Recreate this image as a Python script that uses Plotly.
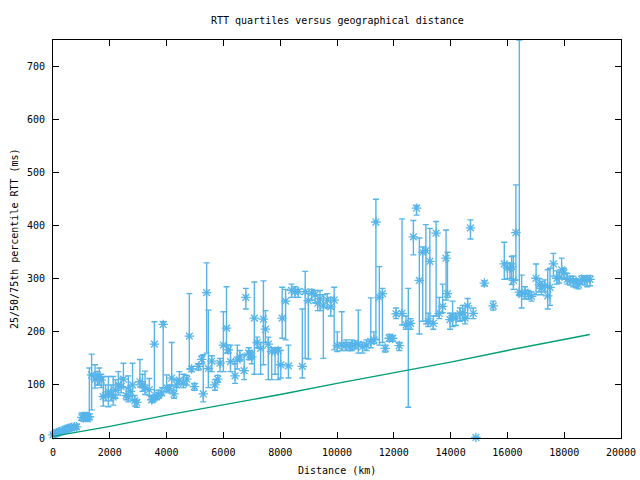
import plotly.graph_objects as go

# distance (km), 25th, 50th, 75th percentile RTT (ms)
dist = [0, 60, 130, 200, 250, 330, 420, 480, 540, 600, 660, 750, 830,
        1010, 1070, 1130, 1240, 1280, 1360, 1480, 1560, 1630, 1700, 1770, 1850, 1950,
        2050, 2120, 2200, 2300, 2400, 2480, 2580, 2650, 2720, 2800, 2880, 2950,
        3060, 3150, 3240, 3390, 3475, 3510, 3570, 3650, 3710, 3830, 3880,
        4000, 4100, 4180, 4260, 4350, 4450, 4590, 4710, 4800, 4880, 4980,
        5120, 5240, 5290, 5410, 5470, 5590, 5700, 5800, 5880,
        6000, 6110, 6170, 6250, 6410, 6490, 6580, 6730, 6790, 6890, 6940,
        7000, 7090, 7190, 7310, 7410, 7480, 7580, 7700, 7820, 7930,
        8020, 8070, 8190, 8290, 8400, 8520, 8640, 8780, 8880, 8990,
        9110, 9230, 9320, 9400, 9520, 9660, 9780, 9900,
        10010, 10170, 10320, 10460, 10520, 10630, 10750, 10900,
        11040, 11190, 11300, 11370, 11490, 11600, 11700, 11840, 11960,
        12080, 12190, 12290, 12430, 12510, 12590, 12690, 12800, 12900,
        13020, 13130, 13210, 13270, 13390, 13490, 13600, 13720, 13840, 13890, 13980,
        14070, 14190, 14330, 14430, 14510, 14600, 14700, 14800, 14890,
        15190, 15500, 15890, 16000, 16090, 16150, 16210, 16300, 16420, 16500,
        16620, 16740, 16850, 17010, 17130, 17200, 17320, 17420, 17500, 17620,
        17740, 17820, 17910, 17990, 18110, 18200, 18320, 18420, 18500, 18620,
        18730, 18810, 18910]
q25 = [3, 4, 6, 7, 8, 9, 11, 12, 13, 14, 15, 16, 17,
       33, 34, 32, 31, 35, 53, 94, 100, 100, 95, 60, 70, 59,
       70, 62, 75, 81, 85, 96, 72, 68, 80, 71, 60, 58,
       96, 88, 82, 80, 68, 70, 81, 72, 75, 80, 94,
       88, 85, 98, 75, 95, 102, 95, 100, 130, 125, 90,
       128, 140, 68, 160, 95, 125, 90, 105, 125,
       125, 160, 160, 125, 103, 130, 145, 110, 243, 148, 148,
       140, 120, 170, 120, 138, 180, 110, 110, 120, 110,
       113, 188, 185, 113, 265, 265, 265, 113, 150, 149,
       260, 255, 240, 240, 150, 245, 230, 166,
       163, 165, 165, 165, 165, 168, 160, 160,
       165, 170, 178, 186, 175, 180, 162, 182, 182,
       225, 165, 213, 205, 58, 205, 345, 420, 196,
       220, 215, 210, 215, 205, 230, 225, 236, 260, 265, 205,
       210, 212, 220, 222, 215, 225, 375, 225, 0,
       287, 241, 299, 300, 300, 289, 280, 298, 268, 245,
       262, 262, 258, 270, 275, 270, 275, 243, 250, 305,
       290, 292, 300, 300, 290, 288, 285, 283, 281, 290,
       288, 285, 287]
q50 = [6, 8, 10, 11, 12, 14, 16, 17, 18, 19, 20, 21, 21,
       39, 38, 39, 40, 40, 119, 111, 118, 114, 109, 78, 80, 87,
       82, 77, 90, 100, 97, 111, 80, 78, 88, 100, 70, 67,
       106, 100, 94, 91, 72, 73, 177, 78, 81, 85, 214,
       95, 93, 113, 83, 100, 109, 103, 111, 192, 130, 97,
       135, 148, 83, 274, 131, 145, 100, 111, 141,
       175, 207, 166, 144, 117, 147, 153, 127, 265, 160, 157,
       153, 226, 180, 169, 224, 205, 177, 163, 163, 165,
       138, 226, 258, 136, 278, 276, 276, 135, 276, 259,
       273, 270, 254, 262, 249, 260, 247, 260,
       174, 175, 175, 172, 175, 175, 177, 172,
       175, 182, 185, 407, 265, 272, 169, 188, 188,
       234, 174, 235, 213, 214, 216, 379, 433, 297,
       350, 353, 220, 333, 216, 386, 235, 248, 339, 272, 223,
       230, 226, 234, 236, 226, 249, 396, 235, 1,
       292, 249, 328, 320, 320, 323, 297, 387, 275, 270,
       275, 270, 267, 301, 289, 282, 287, 268, 284, 328,
       301, 303, 317, 311, 299, 297, 297, 292, 289, 299,
       298, 299, 299]
q75 = [10, 12, 14, 15, 16, 18, 20, 21, 22, 23, 24, 25, 26,
       47, 45, 48, 46, 132, 158, 138, 125, 132, 120, 116, 100, 116,
       100, 116, 110, 125, 113, 141, 95, 117, 98, 141, 80, 71,
       148, 120, 126, 112, 78, 80, 219, 85, 90, 95, 219,
       119, 100, 180, 90, 110, 125, 120, 118, 272, 135, 103,
       140, 155, 157, 330, 241, 155, 110, 118, 150,
       238, 285, 175, 175, 140, 175, 165, 157, 282, 170, 165,
       162, 294, 190, 180, 296, 240, 190, 170, 168, 170,
       165, 284, 280, 175, 290, 285, 280, 243, 314, 272,
       280, 278, 270, 278, 270, 272, 265, 284,
       200, 238, 185, 180, 185, 183, 241, 180,
       185, 264, 200, 450, 323, 282, 175, 195, 193,
       245, 180, 413, 230, 282, 225, 410, 438, 377,
       360, 402, 235, 395, 230, 408, 265, 290, 392, 350, 235,
       258, 235, 245, 250, 250, 263, 411, 245, 2,
       296, 258, 369, 330, 330, 342, 343, 477, 750, 307,
       285, 278, 275, 328, 300, 295, 298, 317, 320, 348,
       315, 312, 339, 320, 310, 305, 305, 300, 296, 306,
       305, 306, 306]

# lower reference line
line_x = [0, 2000, 4000, 6000, 8000, 10000, 12000, 14000, 16000, 18900]
line_y = [3, 22, 43, 62, 82, 103, 123, 143, 165, 195]

plus = [b - a for a, b in zip(q50, q75)]
minus = [a - b for a, b in zip(q50, q25)]

BLUE = "#56B4E9"
GREEN = "#009E73"
FONT = "DejaVu Sans Mono"

fig = go.Figure()
fig.add_trace(go.Scatter(
    x=dist, y=q50, mode="markers",
    marker=dict(symbol="asterisk-open", size=8, color=BLUE,
                line=dict(color=BLUE, width=1.3)),
    error_y=dict(type="data", symmetric=False, array=plus, arrayminus=minus,
                 color=BLUE, thickness=1.4, width=3),
    cliponaxis=False, showlegend=False,
))
fig.add_trace(go.Scatter(
    x=line_x, y=line_y, mode="lines",
    line=dict(color=GREEN, width=1.4), showlegend=False,
))

axis_common = dict(showline=True, linecolor="black", linewidth=1, mirror="ticks",
                   ticks="inside", ticklen=6, tickcolor="black", showgrid=False,
                   zeroline=False, automargin=False,
                   tickfont=dict(family=FONT, size=10, color="black"))
fig.update_layout(
    width=640, height=480,
    margin=dict(l=53, r=19, t=40, b=42),
    paper_bgcolor="white", plot_bgcolor="white",
    xaxis=dict(range=[0, 20000], dtick=2000, tickformat="d", ticklabelstandoff=5,
               **axis_common),
    yaxis=dict(range=[0, 750], dtick=100, ticklabelstandoff=5, **axis_common),
    annotations=[
        dict(text="RTT quartiles versus geographical distance", xref="paper", yref="paper",
             x=0.5, y=1, yshift=20, showarrow=False, yanchor="middle",
             font=dict(family=FONT, size=10, color="black")),
        dict(text="Distance (km)", xref="paper", yref="paper", x=0.5, y=0, yshift=-32,
             showarrow=False, yanchor="middle", font=dict(family=FONT, size=10, color="black")),
        dict(text="25/50/75th percentile RTT (ms)", xref="paper", yref="paper", x=0, xshift=-39,
             y=0.5, showarrow=False, textangle=-90, xanchor="center",
             font=dict(family=FONT, size=10, color="black")),
    ],
)
fig.write_html("out.html")
